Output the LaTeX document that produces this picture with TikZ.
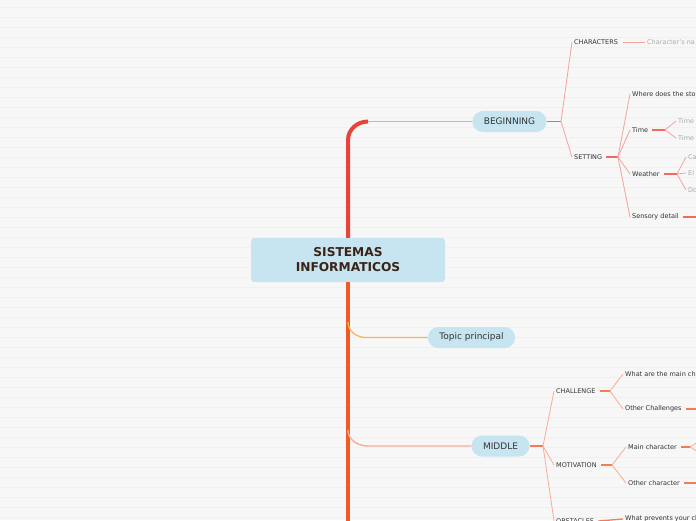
\documentclass[tikz,border=0pt]{standalone}
\usepackage{fontspec}
\setmainfont{DejaVu Sans}
\definecolor{paper}{HTML}{F7F7F7}
\definecolor{paperline}{HTML}{F0F0F0}
\definecolor{pillblue}{HTML}{C6E5F0}
\definecolor{trunkred}{HTML}{E9443A}
\definecolor{trunkorange}{HTML}{F15A24}
\definecolor{topicline}{HTML}{F9B44E}
\definecolor{begline}{HTML}{F5A39B}
\definecolor{begfork}{HTML}{F16A5E}
\definecolor{midline}{HTML}{F6AE94}
\definecolor{midfork}{HTML}{F47C55}
\definecolor{ink}{HTML}{333333}
\definecolor{faded}{HTML}{ABABAB}
\definecolor{titleink}{HTML}{3A2418}
\tikzset{
  mainbox/.style={fill=pillblue, rounded corners=3pt, minimum width=194pt, minimum height=44pt,
    align=center, text=titleink, font=\fontsize{12.2}{15}\selectfont\bfseries},
  pillnode/.style={fill=pillblue, rounded corners=10.5pt, minimum height=21pt, inner xsep=11.5pt,
    text=ink, font=\fontsize{9}{10}\selectfont},
  leaf/.style={anchor=west, inner sep=2pt, text=ink, font=\fontsize{6.5}{8}\selectfont},
  ghost/.style={leaf, text=faded},
  beglink/.style={draw=begline, line width=0.8pt},
  begstem/.style={draw=begfork, line width=1.3pt},
  midlink/.style={draw=midline, line width=0.8pt},
  midstem/.style={draw=midfork, line width=1.3pt}
}
\begin{document}
\begin{tikzpicture}[x=1pt, y=-1pt]
 \useasboundingbox (0,0) rectangle (696,520);
 \clip (0,0) rectangle (696,520);
 % paper
 \fill[paper] (0,0) rectangle (696,520);
 \foreach \y in {6.5,16.5,...,516.5}
   \fill[paperline] (0,\y) rectangle (696,\y+1.5);

 % central topic and first level
 \node[mainbox] (main) at (348,260) {SISTEMAS\\INFORMATICOS};
 \node[pillnode] (beg) at (509.5,121.5) {BEGINNING};
 \node[pillnode] (topic) at (471.5,337.5) {Topic principal};
 \node[pillnode] (mid) at (500.5,446) {MIDDLE};

 \coordinate (begbend) at (368,121.5);
 \coordinate (topicbend) at (366,337.5);
 \coordinate (midbend) at (368,446);
 \coordinate (trunkend) at (348,530);
 \draw[trunkred, line width=4pt] (main.north) -- (348,140) to[out=90,in=180] (begbend);
 \draw[begline, line width=1.2pt] (begbend) -- (beg.west);
 \draw[trunkorange, line width=4.5pt] (main.south) -- (trunkend);
 \draw[topicline, line width=1.2pt] (348,322) to[out=-90,in=180] (topicbend) -- (topic.west);
 \draw[midline, line width=1.4pt] (348,430) to[out=-90,in=180] (midbend) -- (mid.west);

 % BEGINNING
 \coordinate (fbeg) at (561,121.5);
 \node[leaf] (chars) at (572,42) {CHARACTERS};
 \node[ghost] (charname) at (645,42) {Character's na};
 \node[leaf] (setting) at (572,157) {SETTING};
 \draw[begstem] (beg.east) -- (fbeg);
 \draw[beglink] (fbeg) -- (chars.west);
 \draw[beglink] (fbeg) -- (setting.west);
 \draw[beglink] (chars.east) ++(3,0) -- (charname.west);

 \coordinate (fset) at (618,157);
 \node[leaf] (where) at (630,94) {Where does the sto};
 \node[leaf] (time) at (630,130) {Time};
 \node[leaf] (weather) at (630,174) {Weather};
 \node[leaf] (sensory) at (630,217) {Sensory detail};
 \draw[begstem] (setting.east) ++(2,0) -- (fset);
 \foreach \n in {where,time,weather,sensory}
   \draw[beglink] (fset) -- (\n.west);

 \coordinate (ftime) at (665,130);
 \node[ghost] (timea) at (676,121) {Time};
 \node[ghost] (timeb) at (676,138) {Time};
 \draw[begstem] (time.east) ++(2,0) -- (ftime);
 \draw[beglink] (ftime) -- (timea.west);
 \draw[beglink] (ftime) -- (timeb.west);

 \coordinate (fweather) at (677,174);
 \node[ghost] (wca) at (686,157) {Ca};
 \node[ghost] (wel) at (686,173) {El};
 \node[ghost] (wdo) at (686,190) {Do};
 \draw[begstem] (weather.east) ++(2,0) -- (fweather);
 \foreach \n in {wca,wel,wdo}
   \draw[beglink] (fweather) -- (\n.west);

 \coordinate (sensoryend) at (700,217);
 \draw[begstem] (sensory.east) ++(2,0) -- (sensoryend);

 % MIDDLE
 \coordinate (fmid) at (543,446);
 \node[leaf] (challenge) at (554,391) {CHALLENGE};
 \node[leaf] (motiv) at (554,465) {MOTIVATION};
 \node[leaf] (obst) at (554,521) {OBSTACLES};
 \draw[midstem] (mid.east) -- (fmid);
 \foreach \n in {challenge,motiv,obst}
   \draw[midlink] (fmid) -- (\n.west);

 \coordinate (fchal) at (610,391);
 \node[leaf] (mainch) at (623,374) {What are the main ch};
 \node[leaf] (otherch) at (623,409) {Other Challenges};
 \coordinate (otherchend) at (700,409);
 \draw[midstem] (challenge.east) ++(2,0) -- (fchal);
 \draw[midlink] (fchal) -- (mainch.west);
 \draw[midlink] (fchal) -- (otherch.west);
 \draw[midstem] (otherch.east) ++(2,0) -- (otherchend);

 \coordinate (fmot) at (612,465);
 \node[leaf] (maincr) at (626,447) {Main character};
 \node[leaf] (othercr) at (626,483) {Other character};
 \draw[midstem] (motiv.east) ++(2,0) -- (fmot);
 \draw[midlink] (fmot) -- (maincr.west);
 \draw[midlink] (fmot) -- (othercr.west);
 \coordinate (fmain) at (690,447);
 \coordinate (mainup) at (700,441);
 \coordinate (maindown) at (700,453);
 \coordinate (othercrend) at (700,483);
 \draw[midstem] (maincr.east) ++(2,0) -- (fmain);
 \draw[midlink] (fmain) -- (mainup);
 \draw[midlink] (fmain) -- (maindown);
 \draw[midstem] (othercr.east) ++(2,0) -- (othercrend);

 \node[leaf] (prevents) at (623,519) {What prevents your ch};
 \draw[midstem] (obst.east) ++(2,0) -- (prevents.west);
\end{tikzpicture}
\end{document}
